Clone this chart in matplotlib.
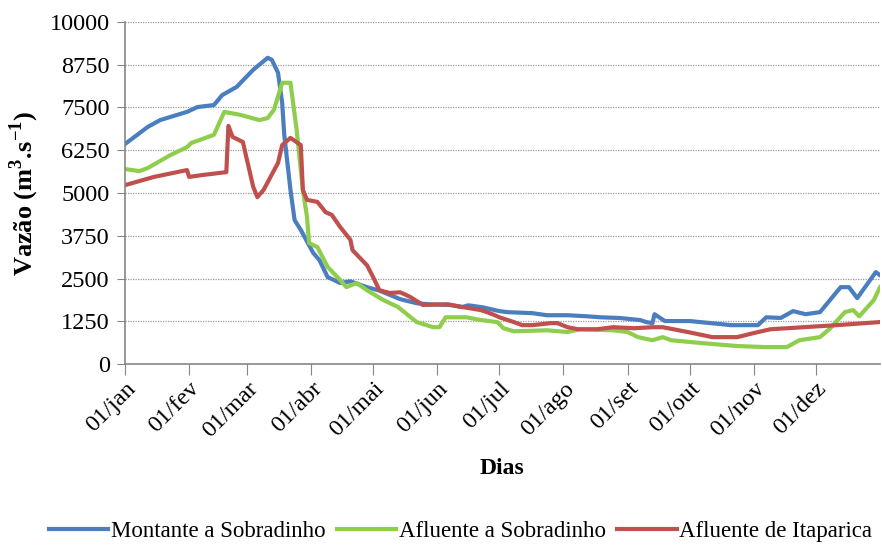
import matplotlib.pyplot as plt
import numpy as np

plt.rcParams['font.family'] = ['Liberation Serif', 'DejaVu Serif']
plt.rcParams['mathtext.fontset'] = 'custom'
plt.rcParams['mathtext.rm'] = 'Liberation Serif'
plt.rcParams['mathtext.bf'] = 'Liberation Serif:bold'

# dia do ano (0 = 01/jan) e vazao (m3/s)
dias_montante = [0, 11, 17, 30, 35, 43, 47, 54, 62, 69, 71, 74, 76, 77, 80, 82, 85,
                 91, 94, 98, 101, 104, 109, 117, 123, 133, 139, 141, 147, 157, 163,
                 166, 173, 181, 185, 197, 204, 214, 223, 230, 239, 249, 252, 255,
                 256, 261, 273, 293, 306, 310, 317, 323, 329, 336, 346, 350, 354,
                 363, 365]
vazao_montante = [6430, 6930, 7130, 7370, 7510, 7570, 7860, 8100, 8600, 8950, 8890,
                  8510, 7630, 6700, 5090, 4210, 3920, 3250, 3040, 2540, 2460, 2370,
                  2420, 2250, 2150, 1900, 1810, 1780, 1750, 1730, 1670, 1720, 1660,
                  1550, 1520, 1490, 1430, 1430, 1400, 1370, 1350, 1290, 1230, 1200,
                  1460, 1260, 1260, 1140, 1140, 1370, 1350, 1550, 1460, 1520, 2250,
                  2250, 1930, 2690, 2600]

dias_afluente = [0, 7, 11, 22, 30, 32, 43, 48, 56, 65, 69, 72, 76, 80, 83, 86, 88,
                 89, 93, 98, 104, 107, 112, 117, 125, 132, 141, 149, 152, 155, 165,
                 172, 180, 183, 188, 204, 214, 220, 236, 243, 248, 255, 260, 264,
                 280, 296, 309, 320, 326, 336, 341, 348, 352, 355, 362, 365]
vazao_afluente = [5700, 5640, 5730, 6110, 6340, 6460, 6700, 7370, 7280, 7130, 7190,
                  7430, 8220, 8220, 6840, 5090, 4300, 3540, 3420, 2840, 2460, 2250,
                  2370, 2160, 1870, 1670, 1230, 1080, 1080, 1370, 1370, 1290, 1230,
                  1050, 960, 990, 940, 1020, 990, 940, 790, 700, 790, 700, 610, 530,
                  500, 500, 700, 790, 1050, 1520, 1580, 1400, 1870, 2250]

dias_itaparica = [0, 14, 30, 31, 38, 49, 50, 52, 57, 59, 62, 64, 67, 74, 76, 80, 85,
                  86, 88, 93, 97, 100, 104, 109, 110, 117, 120, 123, 128, 133, 136,
                  138, 144, 156, 163, 172, 175, 178, 181, 188, 192, 197, 206, 209,
                  214, 219, 228, 236, 246, 255, 260, 272, 284, 296, 304, 312, 328,
                  344, 365]
vazao_itaparica = [5230, 5470, 5670, 5470, 5530, 5610, 6960, 6640, 6490, 5960, 5180,
                   4880, 5090, 5880, 6400, 6610, 6400, 5090, 4800, 4740, 4440, 4360,
                   4010, 3630, 3330, 2890, 2540, 2160, 2080, 2100, 2020, 1960, 1730,
                   1750, 1670, 1580, 1520, 1450, 1370, 1230, 1140, 1140, 1200, 1200,
                   1080, 1020, 1020, 1080, 1050, 1080, 1080, 940, 790, 790, 910, 1020,
                   1080, 1140, 1230]

meses_dia = [0, 31, 59, 90, 120, 151, 181, 212, 243, 273, 304, 334]
meses_rot = ['01/jan', '01/fev', '01/mar', '01/abr', '01/mai', '01/jun',
             '01/jul', '01/ago', '01/set', '01/out', '01/nov', '01/dez']

fig = plt.figure(figsize=(8.82, 5.46), dpi=100)
ax = fig.add_axes([0.1417, 0.333, 0.856, 0.627])

ax.plot(dias_montante, vazao_montante, color='#4a7ebf', lw=3, label='Montante a Sobradinho',
        solid_joinstyle='round')
ax.plot(dias_afluente, vazao_afluente, color='#8fce4c', lw=3, label='Afluente a Sobradinho',
        solid_joinstyle='round')
ax.plot(dias_itaparica, vazao_itaparica, color='#c0504d', lw=3, label='Afluente de Itaparica',
        solid_joinstyle='round')

ax.set_xlim(0, 365)
ax.set_ylim(0, 10000)
ax.set_yticks(np.arange(0, 10001, 1250))
ax.set_xticks(meses_dia)
ax.set_xticklabels(meses_rot, rotation=45, ha='right', rotation_mode='anchor')
ax.tick_params(axis='y', labelsize=17.5, length=6, color='#868686', pad=5)
ax.tick_params(axis='x', labelsize=17.5, length=8, color='#868686', pad=2)
ax.grid(axis='y', color='#9a9a9a', linestyle=(0, (1, 1)), lw=0.9)
ax.set_axisbelow(True)
for s in ['top', 'right']:
    ax.spines[s].set_visible(False)
for s in ['left', 'bottom']:
    ax.spines[s].set_color('#868686')
    ax.spines[s].set_linewidth(1.2)

ax.set_ylabel('Vazão (m$^{\\mathbf{3}}$.s$^{\\mathbf{-1}}$)', fontsize=19, fontweight='bold', labelpad=6)
ax.set_xlabel('Dias', fontsize=17, fontweight='bold', labelpad=12)

fig.legend(loc='center', bbox_to_anchor=(0.522, 0.027), ncol=3, frameon=False,
           fontsize=16.5, handlelength=2.6, handletextpad=0.1, columnspacing=0.5)

fig.savefig('out.png', dpi=100)
